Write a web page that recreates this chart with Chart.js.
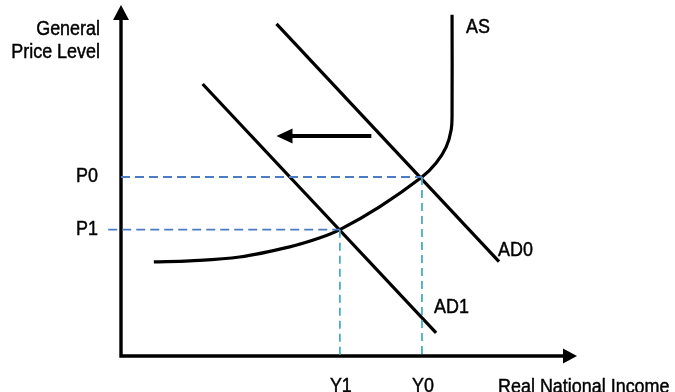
<!DOCTYPE html>
<html>
<head>
<meta charset="utf-8">
<script src="https://cdn.jsdelivr.net/npm/chart.js@4.4.1/dist/chart.umd.min.js"></script>
<style>
  html, body { margin: 0; padding: 0; background: #fff; }
  #wrap { width: 675px; height: 392px; }
</style>
</head>
<body>
<div id="wrap"><canvas id="adas"></canvas></div>
<script>
// index scale 0-100 on both axes
const incomeTicks = ["Y1", "Y0"];
const incomeValues = [48, 66];
const priceTicks = ["P0", "P1"];
const priceValues = [51, 36];

const asCurve = [[7.2, 26.8], [15.1, 27.1], [26, 28.2], [37, 31.1], [43.5, 33.6], [48, 36],
                 [56.7, 42.5], [66, 51], [69.1, 55], [71.3, 59.5], [72.4, 64.4], [72.6, 69.2], [72.6, 97.2]];
const ad0Line = [[34.1, 94.6], [82.9, 26.9]];
const ad1Line = [[17.9, 77.5], [69.1, 6.6]];
const shiftArrow = [[54.9, 62.7], [34.1, 62.7]];

const curveNames = ["AS", "AD0", "AD1"];
const axisTitles = { x: "Real National Income", y: ["General", "Price Level"] };

const FONT = "19.5px 'Liberation Sans', Arial, sans-serif";
const SQUEEZE = 0.92; // narrow face look

const pts = arr => arr.map(p => ({ x: p[0], y: p[1] }));

function blackLine(data, extra) {
  return Object.assign({
    data: pts(data), borderColor: "#000", borderWidth: 3.2,
    pointRadius: 0, fill: false, tension: 0
  }, extra || {});
}

const datasets = [];
// dashed guides to the axes
priceValues.forEach((p, i) => {
  datasets.push({
    data: [{ x: i === 1 ? -2.8 : 0, y: p }, { x: incomeValues[1 - i], y: p }],
    borderColor: "#4a7cc4", borderWidth: 1.8, borderDash: [9, 5],
    pointRadius: 0, clip: false
  });
});
incomeValues.forEach((v, i) => {
  datasets.push({
    data: [{ x: v, y: priceValues[1 - i] }, { x: v, y: 0 }],
    borderColor: "#4bacc6", borderWidth: 1.8, borderDash: [8, 5],
    pointRadius: 0
  });
});
datasets.push(blackLine(asCurve, { tension: 0.35 }));
datasets.push(blackLine(ad0Line));
datasets.push(blackLine(ad1Line));
datasets.push(blackLine(shiftArrow.map((p, i) => i === 1 ? [p[0] + 3, p[1]] : p), { borderWidth: 4 }));

function arrowHead(ctx, tipX, tipY, dir, len, half) {
  ctx.save();
  ctx.translate(tipX, tipY);
  ctx.rotate(dir);
  ctx.beginPath();
  ctx.moveTo(0, 0);
  ctx.lineTo(-len, -half);
  ctx.lineTo(-len, half);
  ctx.closePath();
  ctx.fillStyle = "#000";
  ctx.fill();
  ctx.restore();
}

function label(ctx, text, x, y, align, baseline) {
  ctx.save();
  ctx.translate(x, y);
  ctx.scale(SQUEEZE, 1);
  ctx.textAlign = align;
  ctx.textBaseline = baseline || "alphabetic";
  ctx.fillText(text, 0, 0);
  ctx.strokeText(text, 0, 0);
  ctx.restore();
}

const diagramPlugin = {
  id: "diagram",
  beforeDatasetsDraw(chart) {
    const { ctx, scales: { x, y } } = chart;
    const x0 = x.getPixelForValue(0), y0 = y.getPixelForValue(0);
    const xEnd = x.getPixelForValue(100), yEnd = y.getPixelForValue(100);
    ctx.save();
    ctx.strokeStyle = "#000";
    ctx.lineWidth = 3.4;
    ctx.beginPath();
    ctx.moveTo(x0, yEnd + 12);
    ctx.lineTo(x0, y0);
    ctx.lineTo(xEnd - 12, y0);
    ctx.stroke();
    ctx.restore();
    arrowHead(ctx, x0, yEnd, -Math.PI / 2, 15, 8);
    arrowHead(ctx, xEnd, y0, 0, 14, 7.5);
  },
  afterDatasetsDraw(chart) {
    const { ctx, scales: { x, y } } = chart;
    const px = v => x.getPixelForValue(v), py = v => y.getPixelForValue(v);
    // shift arrow head
    const tip = shiftArrow[1];
    arrowHead(ctx, px(tip[0]), py(tip[1]), Math.PI, 16, 7.5);

    ctx.save();
    ctx.font = FONT;
    ctx.fillStyle = "#000";
    ctx.strokeStyle = "#000";
    ctx.lineWidth = 0.45;
    priceTicks.forEach((t, i) => label(ctx, t, px(0) - 23, py(priceValues[i]), "right", "middle"));
    incomeTicks.forEach((t, i) => label(ctx, t, px(incomeValues[i]) + 1, py(0) + 36, "center"));

    label(ctx, axisTitles.x, px(0) + 377, py(0) + 37, "left");
    label(ctx, axisTitles.y[0], px(0) - 21, py(100) + 30, "right");
    label(ctx, axisTitles.y[1], px(0) - 21, py(100) + 53, "right");

    const asTop = asCurve[asCurve.length - 1];
    label(ctx, curveNames[0], px(asTop[0]) + 14, py(asTop[1]) + 18, "left");
    const ad0End = ad0Line[1];
    label(ctx, curveNames[1], px(ad0End[0]) - 1, py(ad0End[1]) - 6, "left");
    const ad1End = ad1Line[1];
    label(ctx, curveNames[2], px(ad1End[0]) - 2, py(ad1End[1]) - 20, "left");
    ctx.restore();
  }
};

new Chart(document.getElementById("adas"), {
  type: "scatter",
  data: { datasets: datasets.map(d => Object.assign({ showLine: true }, d)) },
  options: {
    responsive: true,
    maintainAspectRatio: false,
    animation: false,
    layout: { padding: { left: 121, right: 98, top: 5, bottom: 36 } },
    plugins: { legend: { display: false }, tooltip: { enabled: false } },
    scales: {
      x: { type: "linear", min: 0, max: 100, display: false },
      y: { type: "linear", min: 0, max: 100, display: false }
    }
  },
  plugins: [diagramPlugin]
});
</script>
</body>
</html>
